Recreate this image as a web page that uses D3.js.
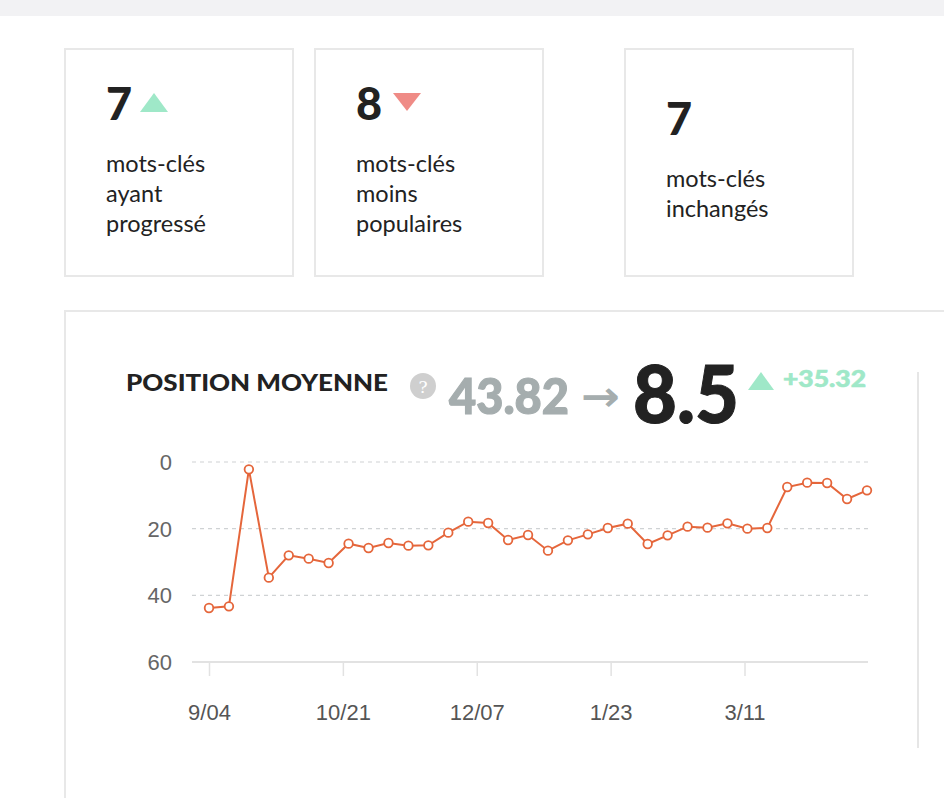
<!DOCTYPE html>
<html><head><meta charset="utf-8">
<script src="https://cdn.jsdelivr.net/npm/d3@7/dist/d3.min.js"></script>
<style>
html,body{margin:0;padding:0;background:#fff;overflow:hidden;}
svg{display:block;}
</style></head>
<body>
<svg id="c" width="944" height="798"></svg>
<script>
// ---- data ----
const dates = ["2017-09-04","2017-09-11","2017-09-18","2017-09-25","2017-10-02","2017-10-09","2017-10-16","2017-10-23","2017-10-30","2017-11-06","2017-11-13","2017-11-20","2017-11-27","2017-12-04","2017-12-11","2017-12-18","2017-12-25","2018-01-01","2018-01-08","2018-01-15","2018-01-22","2018-01-29","2018-02-05","2018-02-12","2018-02-19","2018-02-26","2018-03-05","2018-03-12","2018-03-19","2018-03-26","2018-04-02","2018-04-09","2018-04-16","2018-04-23"];
const positions = [43.8,43.3,2.2,34.7,28.0,29.0,30.3,24.5,25.8,24.3,25.1,25.0,21.2,17.9,18.3,23.4,21.9,26.6,23.5,21.7,19.8,18.5,24.6,22.0,19.4,19.7,18.4,20.0,19.8,7.5,6.2,6.3,11.1,8.5];
const xTickDates = ["2017-09-04","2017-10-21","2017-12-07","2018-01-23","2018-03-11"];
const yTicks = [0,20,40,60];
const cardNumbers = ["7","8","7"];
const cardLabels = [["mots-clés","ayant","progressé"],["mots-clés","moins","populaires"],["mots-clés","inchangés"]];
const cardTrend = ["up","down",null];
const metricTitle = "POSITION MOYENNE";
const startValue = "43.82";
const endValue = "8.5";
const deltaValue = "+35.32";

const parse = d3.timeParse("%Y-%m-%d");
const fmt = d3.timeFormat("%-m/%d");
const data = dates.map((d,i)=>({date:parse(d), v:positions[i]}));

const svg = d3.select("#c");
const GREEN="#9fe8c8", RED="#ef8b86", DARK="#222222", BORDER="#e8e8e8", ORANGE="#e5663b";
const headFont = "Lato, 'Open Sans', sans-serif";
const axisFont = "'Liberation Sans', Arial, sans-serif";

// top band
svg.append("rect").attr("x",0).attr("y",0).attr("width",944).attr("height",16).attr("fill","#f2f2f4");

// cards
const cards = [{x:65,w:228},{x:315,w:228},{x:625,w:228}];
cards.forEach((c,i)=>{
  svg.append("rect").attr("x",c.x).attr("y",49).attr("width",c.w).attr("height",227)
    .attr("fill","#fff").attr("stroke",BORDER).attr("stroke-width",2);
  const tx = c.x+41;
  const base = cardTrend[i] ? 120 : 135;
  svg.append("text").attr("x",tx).attr("y",base).text(cardNumbers[i])
    .attr("font-family",headFont).attr("font-weight",900).attr("font-size",45).attr("fill",DARK);
  if(cardTrend[i]==="up"){
    svg.append("path").attr("d",`M${c.x+75},112 L${c.x+89},93 L${c.x+103},112 Z`).attr("fill",GREEN);
  } else if(cardTrend[i]==="down"){
    svg.append("path").attr("d",`M${c.x+78},93 L${c.x+106},93 L${c.x+92},111 Z`).attr("fill",RED);
  }
  cardLabels[i].forEach((l,j)=>{
    svg.append("text").attr("x",tx).attr("y",base+52+j*30).text(l)
      .attr("font-family",headFont).attr("font-size",23.5).attr("fill",DARK);
  });
});

// chart card
svg.append("rect").attr("x",65).attr("y",311).attr("width",900).attr("height",520)
  .attr("fill","#fff").attr("stroke",BORDER).attr("stroke-width",2);
svg.append("line").attr("x1",918).attr("x2",918).attr("y1",372).attr("y2",748)
  .attr("stroke","#e6e6e6").attr("stroke-width",2);

// header
svg.append("text").attr("x",126).attr("y",391).text(metricTitle)
  .attr("font-family",headFont).attr("font-weight",900).attr("font-size",23).attr("fill",DARK)
  .attr("textLength",262).attr("lengthAdjust","spacingAndGlyphs");
svg.append("circle").attr("cx",423).attr("cy",386).attr("r",13).attr("fill","#cfcfcf");
svg.append("text").attr("x",423).attr("y",393).attr("text-anchor","middle").text("?")
  .attr("font-family","'DejaVu Serif', serif").attr("font-size",17).attr("fill","#fff");
svg.append("text").attr("x",449).attr("y",414).text(startValue)
  .attr("font-family",headFont).attr("font-weight",900).attr("font-size",50).attr("fill","#a5adae")
  .attr("stroke","#a5adae").attr("stroke-width",1.2)
  .attr("textLength",120).attr("lengthAdjust","spacingAndGlyphs");
svg.append("text").attr("x",581).attr("y",411).text("→")
  .attr("font-family","'DejaVu Sans', sans-serif").attr("font-weight",700).attr("font-size",42).attr("fill","#a5adae")
  .attr("textLength",39).attr("lengthAdjust","spacingAndGlyphs");
svg.append("text").attr("x",633).attr("y",423).text(endValue)
  .attr("font-family",headFont).attr("font-weight",900).attr("font-size",80).attr("fill",DARK)
  .attr("stroke",DARK).attr("stroke-width",1)
  .attr("textLength",106).attr("lengthAdjust","spacingAndGlyphs");
svg.append("path").attr("d","M748,390 L761,372 L774,390 Z").attr("fill",GREEN);
svg.append("text").attr("x",783).attr("y",387).text(deltaValue)
  .attr("font-family",headFont).attr("font-weight",900).attr("font-size",22).attr("fill",GREEN)
  .attr("stroke",GREEN).attr("stroke-width",0.6)
  .attr("textLength",83).attr("lengthAdjust","spacingAndGlyphs");

// scales
const x = d3.scaleTime().domain([data[0].date, data[data.length-1].date]).range([209,867]);
const y = d3.scaleLinear().domain([0,60]).range([462,662]);
const gridL = 192, gridR = 868;

// grid
yTicks.forEach(t=>{
  svg.append("line").attr("x1",gridL).attr("x2",gridR).attr("y1",y(t)).attr("y2",y(t))
    .attr("stroke", t===60 ? "#e2e2e2" : "#cfd2d4").attr("stroke-width", t===60?2:1.2)
    .attr("stroke-dasharray", t===60 ? null : "4,4");
  svg.append("text").attr("x",172).attr("y",y(t)+8).attr("text-anchor","end").text(t)
    .attr("font-family",axisFont).attr("font-size",22).attr("fill","#666");
});

// x axis
const xAxis = d3.axisBottom(x).tickValues(xTickDates.map(parse)).tickFormat(fmt).tickSize(14).tickPadding(28);
const gx = svg.append("g").attr("transform",`translate(0,${y(60)})`).call(xAxis);
gx.select(".domain").remove();
gx.selectAll(".tick line").attr("stroke","#e2e2e2").attr("stroke-width",1.5);
gx.selectAll(".tick text").attr("font-family",axisFont).attr("font-size",22).attr("fill","#555");

// line
const line = d3.line().x(d=>x(d.date)).y(d=>y(d.v));
svg.append("path").datum(data).attr("d",line).attr("fill","none").attr("stroke",ORANGE).attr("stroke-width",2);
svg.selectAll(".pt").data(data).enter().append("circle").attr("class","pt")
  .attr("cx",d=>x(d.date)).attr("cy",d=>y(d.v)).attr("r",4.3)
  .attr("fill","#fff").attr("stroke",ORANGE).attr("stroke-width",1.8);
</script>
</body></html>
